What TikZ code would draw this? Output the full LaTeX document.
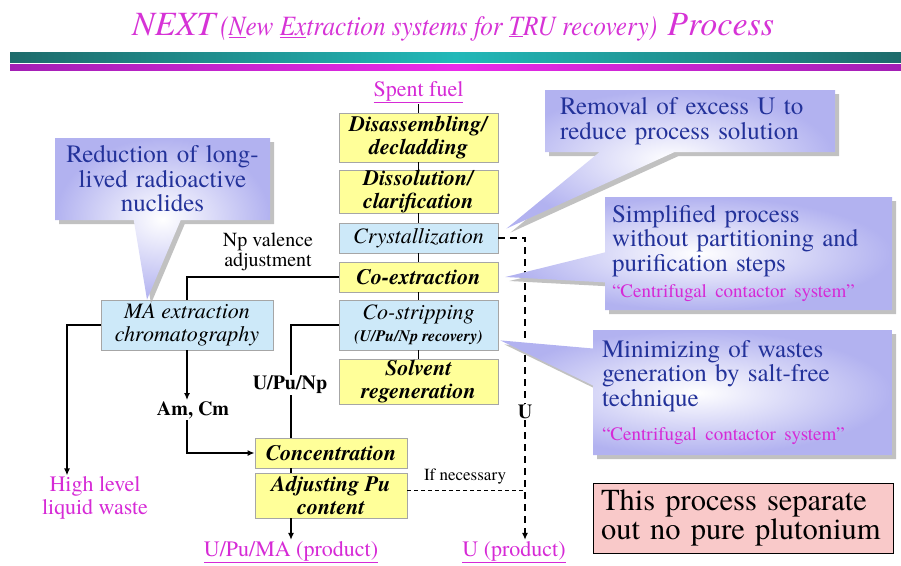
\documentclass[tikz,border=0pt]{standalone}
\usepackage{graphicx}
\usepackage{fontspec}
\setmainfont{TeX Gyre Termes}
\usetikzlibrary{shapes.callouts,shadows,arrows.meta}
\definecolor{boxyellow}{HTML}{FFFF99}
\definecolor{boxblue}{HTML}{CDE9F9}
\definecolor{linkpink}{HTML}{D62AD6}
\definecolor{titlepink}{HTML}{D633D6}
\definecolor{noteblue}{HTML}{23329A}
\definecolor{lavender}{HTML}{B2B2F0}
\definecolor{notepink}{HTML}{F9C9C9}
\definecolor{tealdark}{HTML}{1E6B6B}
\definecolor{teallight}{HTML}{22B8B8}
\definecolor{magdark}{HTML}{A21FB4}
\definecolor{maglight}{HTML}{EA2AEA}
\newcommand{\ccsys}{\color{linkpink}\fontsize{19}{20}\selectfont}
\tikzset{
  stepbox/.style={draw=gray!70, line width=0.8pt, minimum width=159pt, inner sep=0pt,
    align=center, font=\fontsize{22}{23}\selectfont\itshape},
  yellowbox/.style={stepbox, fill=boxyellow, font=\fontsize{22}{23}\selectfont\bfseries\itshape},
  bluebox/.style={stepbox, fill=boxblue},
  endlabel/.style={text=linkpink, inner sep=1pt, align=center, font=\fontsize{22}{23}\selectfont},
  flowlabel/.style={inner sep=1pt, align=center, font=\fontsize{20}{20}\selectfont},
  link/.style={line width=1.4pt},
  dashlink/.style={line width=1.4pt, dash pattern=on 7pt off 5pt},
  calloutbox/.style={rectangle callout, inner color=white, outer color=lavender,
    drop shadow={shadow xshift=4pt, shadow yshift=-4pt, fill=gray!60, opacity=0.8},
    text=noteblue, inner ysep=0pt, font=\fontsize{25}{24.5}\selectfont}
}
\begin{document}
\begin{tikzpicture}[x=1pt,y=-1pt,>={Latex[length=7pt,width=6pt]}]
        \useasboundingbox (0,0) rectangle (901,565);
        \node[anchor=base west, inner sep=0pt, text=titlepink, font=\itshape] (title) at (132,35)
          {{\fontsize{34}{34}\selectfont NEXT}\hspace{5pt}\scalebox{0.9}[1]{\fontsize{28}{28}\selectfont (\underline{N}ew \underline{Ex}traction systems for \underline{T}RU recovery)}\hspace{10pt}{\fontsize{34}{34}\selectfont Process}};
        \shade[left color=tealdark, right color=tealdark, middle color=teallight] (10,52) rectangle (901,62);
        \shade[left color=magdark, right color=magdark, middle color=maglight] (10,64) rectangle (901,70);
        \node[endlabel] (spent) at (418.5,92) {\underline{Spent fuel}};
        \node[yellowbox, minimum height=49pt] (dis) at (418.5,137.5) {Disassembling/\\decladding};
        \node[yellowbox, minimum height=43pt] (dsl) at (418.5,191.5) {Dissolution/\\clarification};
        \node[bluebox, minimum height=30pt] (cry) at (418.5,238) {Crystallization};
        \node[yellowbox, minimum height=30pt] (coex) at (418.5,277) {Co-extraction};
        \node[bluebox, minimum height=50pt] (cost) at (418.5,325) {Co-stripping\\[-1pt]{\fontsize{16}{17}\selectfont\bfseries (U/Pu/Np recovery)}};
        \node[yellowbox, minimum height=45pt] (solv) at (418.5,381.5) {Solvent\\regeneration};
        \node[yellowbox, minimum width=152pt, minimum height=30pt] (conc) at (331,453) {Concentration};
        \node[yellowbox, minimum width=152pt, minimum height=45pt] (adj) at (331,495.5) {Adjusting Pu\\content};
        \node[bluebox, minimum width=172pt, minimum height=50pt] (ma) at (187,325) {MA extraction\\chromatography};
        \node[endlabel] (uprod) at (291,552) {\underline{U/Pu/MA (product)}};
        \node[endlabel] (uonly) at (514,552) {\underline{U (product)}};
        \node[endlabel] (hlw) at (95,498) {High level\\liquid waste};
        \node[flowlabel] (npv) at (268,252) {Np valence\\adjustment};
        \draw[link] (spent) -- (dis);
        \draw[link] (dis) -- (dsl);
        \draw[link] (dsl) -- (cry);
        \draw[link] (cry) -- (coex);
        \draw[link] (coex) -- (cost);
        \draw[link] (cost) -- (solv);
        \draw[link] (coex.west) -| (ma.north);
        \draw[link,->] (ma.west) -| ([xshift=-28pt]hlw.north);
        \node[flowlabel, font=\fontsize{20}{20}\selectfont\bfseries] (amcm) at (193,410) {Am, Cm};
        \draw[link,->] (ma.south) -- (ma.south |- amcm.north);
        \draw[link,->] (ma.south |- amcm.south) |- (conc.west);
        \draw[link] (cost.west) -| (uprod |- conc.north);
        \node[flowlabel, fill=white, font=\fontsize{20}{20}\selectfont\bfseries] (upn) at (290,385) {U/Pu/Np};
        \draw[link] (uprod |- conc.south) -- (uprod |- adj.north);
        \draw[link,->] (uprod |- adj.south) -- (uprod.north);
        \node[flowlabel, fill=white, font=\fontsize{20}{20}\selectfont\bfseries] (ulab) at (525,412) {U};
        \draw[dashlink] (cry.east) -| (ulab.north);
        \draw[dashlink,->] (ulab.south) -- (ulab.south |- uonly.north);
        \node[flowlabel, font=\fontsize{17}{17}\selectfont] (ifnec) at (465,477) {If necessary};
        \draw[line width=1pt, dash pattern=on 4pt off 3pt] ([yshift=5pt]adj.east) -- ([yshift=5pt]adj.east -| ulab);
        \node[calloutbox, align=center, text width=205pt, inner xsep=5pt, minimum height=82pt,
          callout absolute pointer={([xshift=-40pt]ma.north)}, callout pointer width=47pt] (redn) at (162.5,179)
          {Reduction of long-\\lived radioactive\\nuclides};
        \node[calloutbox, align=left, text width=260pt, inner xsep=15pt, minimum height=62pt,
          callout absolute pointer={([xshift=8pt,yshift=-6pt]cry.north east)}, callout pointer width=75pt] (remv) at (690,121)
          {Removal of excess U to\\reduce process solution};
        \node[calloutbox, align=left, text width=273pt, inner xsep=7pt, minimum height=113pt,
          callout absolute pointer={([xshift=7pt]coex.east)}, callout pointer width=30pt] (simp) at (748.5,253.5)
          {Simplified process\\without partitioning and\\purification steps\\[2pt]{\ccsys “Centrifugal contactor system”}};
        \node[calloutbox, align=left, text width=281pt, inner xsep=9pt, minimum height=125pt,
          callout absolute pointer={([xshift=2pt,yshift=10pt]cost.south east)}, callout pointer width=37pt] (mini) at (742.5,392.5)
          {Minimizing of wastes\\generation by salt-free\\technique\\[10pt]{\ccsys “Centrifugal contactor system”}};
        \node[draw=black, line width=1pt, fill=notepink, align=left, text width=284pt, inner xsep=8pt,
          minimum height=70pt, font=\fontsize{30.5}{29}\selectfont] (note) at (743,518)
          {This process separate\\out no pure plutonium};
    \end{tikzpicture}
\end{document}
